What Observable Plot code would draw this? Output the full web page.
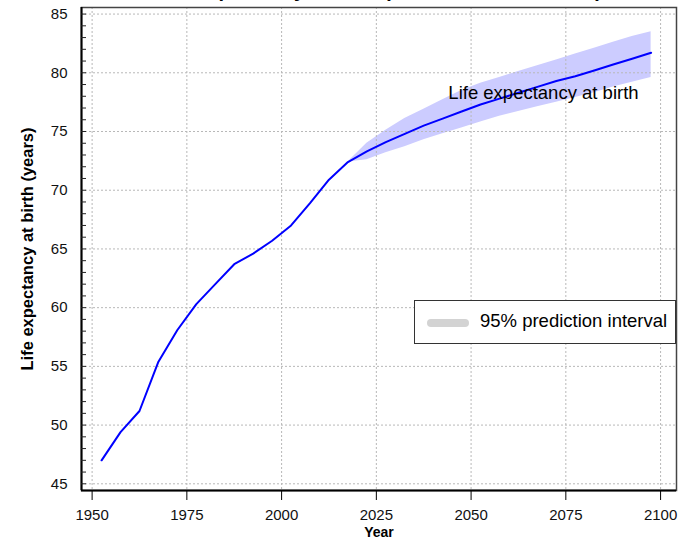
<!DOCTYPE html>
<html>
<head>
<meta charset="utf-8">
<script src="https://cdn.jsdelivr.net/npm/d3@7"></script>
<script src="https://cdn.jsdelivr.net/npm/@observablehq/plot@0.6"></script>
<style>
  html, body { margin: 0; padding: 0; background: #fff; overflow: hidden; }
  #wrap { position: relative; width: 696px; height: 540px; font-family: "Liberation Sans", Arial, sans-serif; }
  #title { position: absolute; left: 81px; width: 595px; top: -21px; text-align: center; font-size: 20px; font-weight: bold; color: #000; white-space: nowrap; }
  #legend { position: absolute; left: 414px; top: 300px; width: 262px; height: 44px; box-sizing: border-box; border: 1px solid #333; background: #fff; }
  #legend .sw { position: absolute; left: 12px; top: 18px; width: 42px; height: 8px; border-radius: 4px; background: #d3d3d3; }
  #legend .lab { position: absolute; left: 65px; top: 9px; font-size: 18.5px; color: #000; white-space: nowrap; }
  svg g[aria-label="x-axis tick label"], svg g[aria-label="y-axis tick label"] { font-size: 15px !important; }
  svg g[aria-label="x-axis tick label"] text, svg g[aria-label="y-axis tick label"] text { font-size: 15px !important; fill: #111; }
  svg g[aria-label="y-axis label"] text { font-weight: bold; font-size: 16.5px; }
  svg g[aria-label="x-axis label"] text { font-weight: bold; font-size: 14px; }
</style>
</head>
<body>
<div id="wrap">
  <div id="title">Life expectancy at birth (both sexes combined)</div>
</div>
<script>
// Observed (estimates) — five-year period midpoints
const histYears = [1952.5, 1957.5, 1962.5, 1967.5, 1972.5, 1977.5, 1982.5, 1987.5, 1992.5, 1997.5, 2002.5, 2007.5, 2012.5, 2017.5];
const histValues = [47.0, 49.4, 51.2, 55.4, 58.1, 60.3, 62.0, 63.7, 64.6, 65.7, 67.0, 68.9, 70.9, 72.4];

// Projections: median and 95% prediction interval
const projYears = [2017.5, 2022.5, 2027.5, 2032.5, 2037.5, 2042.5, 2047.5, 2052.5, 2057.5, 2062.5, 2067.5, 2072.5, 2077.5, 2082.5, 2087.5, 2092.5, 2097.5];
const projMedian = [72.4, 73.3, 74.1, 74.8, 75.5, 76.1, 76.7, 77.3, 77.8, 78.3, 78.8, 79.3, 79.7, 80.2, 80.7, 81.2, 81.7];
const projUpper = [72.4, 74.0, 75.1, 76.1, 76.9, 77.7, 78.5, 79.1, 79.6, 80.1, 80.6, 81.1, 81.6, 82.1, 82.6, 83.1, 83.5];
const projLower = [72.4, 72.6, 73.2, 73.7, 74.3, 74.8, 75.3, 75.8, 76.3, 76.7, 77.1, 77.5, 77.9, 78.3, 78.8, 79.2, 79.6];

const xTicks = [1950, 1975, 2000, 2025, 2050, 2075, 2100];
const yTicks = [45, 50, 55, 60, 65, 70, 75, 80, 85];
const yMinorTicks = d3.range(45, 86, 1);

const seriesLabel = "Life expectancy at birth";
const labelPos = {year: 2044, value: 78.24};
const legendLabel = "95% prediction interval";
const yTitle = "Life expectancy at birth (years)";
const xTitle = "Year";

const hist = histYears.map((year, i) => ({year, value: histValues[i]}));
const proj = projYears.map((year, i) => ({year, value: projMedian[i], lo: projLower[i], hi: projUpper[i]}));
const lineData = hist.concat(proj.slice(1));

const xDomain = [1947.2, 2104.2];
const yDomain = [44.43, 85.56];
const grid = {stroke: "#b8b8b8", strokeOpacity: 1, strokeDasharray: "2,2", strokeWidth: 1};

const chart = Plot.plot({
  width: 696,
  height: 540,
  marginLeft: 81,
  marginRight: 20,
  marginTop: 7,
  marginBottom: 50,
  style: {fontFamily: "'Liberation Sans', Arial, sans-serif", fontSize: "15px", color: "#000", background: "transparent"},
  x: {domain: xDomain},
  y: {domain: yDomain},
  marks: [
    Plot.areaY(proj, {x: "year", y1: "lo", y2: "hi", fill: "#ccccff", fillOpacity: 1}),
    Plot.gridX(xTicks, grid),
    Plot.gridY(yTicks, grid),
    Plot.line(lineData, {x: "year", y: "value", stroke: "#0000ff", strokeWidth: 2}),
    Plot.text([labelPos], {x: "year", y: "value", text: () => seriesLabel, textAnchor: "start", lineAnchor: "middle", fontSize: 18.5, fill: "#000"}),
    Plot.frame({stroke: "#444", strokeWidth: 1.5}),
    Plot.ruleX([xDomain[0]], {stroke: "#000", strokeWidth: 2}),
    Plot.ruleY([yDomain[0]], {stroke: "#000", strokeWidth: 2}),
    Plot.axisY(yMinorTicks, {tickSize: 5, dx: 5, tickFormat: () => "", label: null, stroke: "#222"}),
    Plot.axisY(yTicks, {tickSize: 0, tickPadding: 14, tickFormat: d => `${d}`, label: yTitle, labelAnchor: "center", labelArrow: "none", labelOffset: 60, fontSize: 15}),
    Plot.axisX(xTicks, {tickSize: 10, tickPadding: 9, tickFormat: d => `${d}`, label: xTitle, labelAnchor: "center", labelArrow: "none", labelOffset: 46, stroke: "#000", fontSize: 15})
  ]
});
const wrap = document.getElementById("wrap");
wrap.prepend(chart);
const leg = document.createElement("div");
leg.id = "legend";
leg.innerHTML = `<div class="sw"></div><div class="lab">${legendLabel}</div>`;
wrap.appendChild(leg);
</script>
</body>
</html>
